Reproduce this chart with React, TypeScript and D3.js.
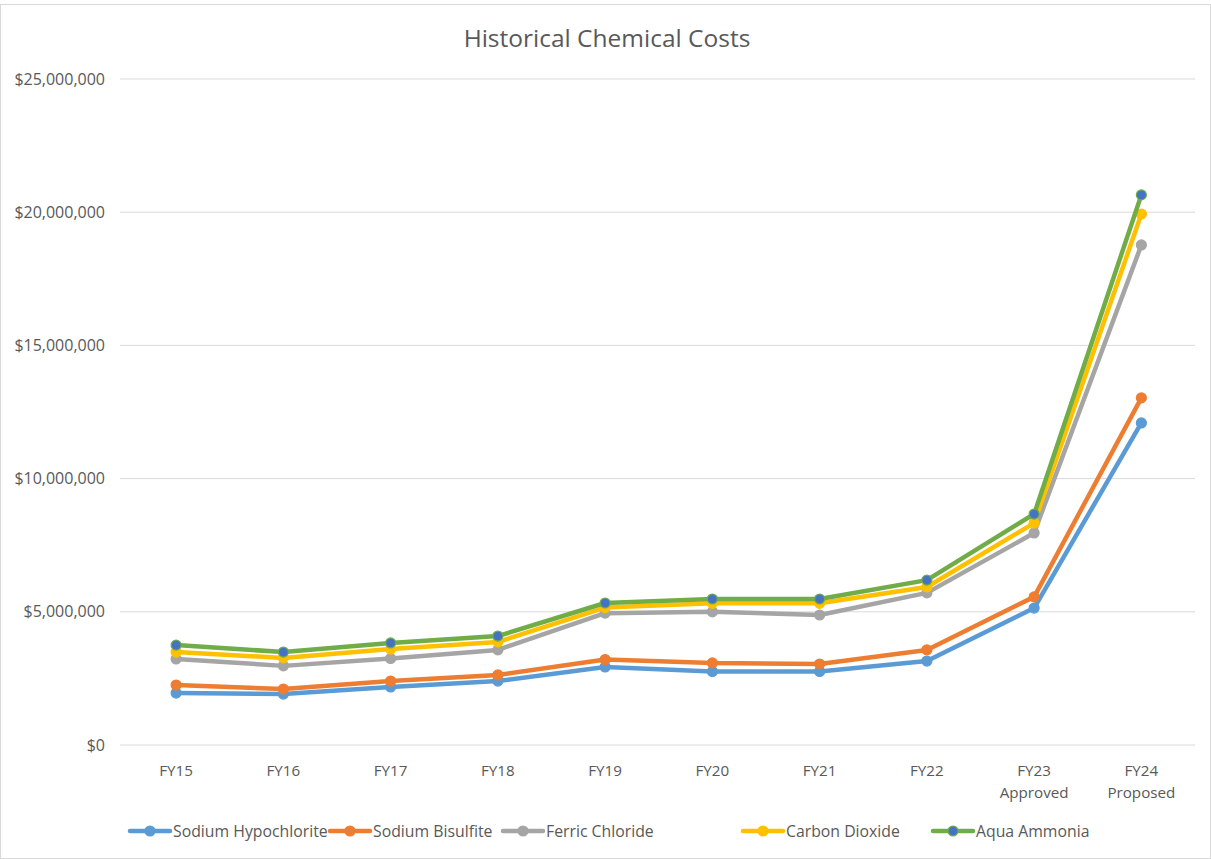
import React from "react";
import * as d3 from "d3";

const categories = ["FY15", "FY16", "FY17", "FY18", "FY19", "FY20", "FY21", "FY22", "FY23\nApproved", "FY24\nProposed"];
const sodiumHypochlorite = [1950000, 1910000, 2180000, 2400000, 2930000, 2760000, 2760000, 3150000, 5140000, 12090000];
const sodiumBisulfite = [2250000, 2100000, 2400000, 2630000, 3210000, 3080000, 3040000, 3570000, 5560000, 13030000];
const ferricChloride = [3230000, 2970000, 3250000, 3570000, 4950000, 5000000, 4880000, 5710000, 7960000, 18770000];
const carbonDioxide = [3490000, 3270000, 3600000, 3870000, 5160000, 5320000, 5320000, 5930000, 8330000, 19930000];
const aquaAmmonia = [3750000, 3490000, 3830000, 4090000, 5330000, 5480000, 5480000, 6190000, 8670000, 20650000];
const yTicks = [0, 5000000, 10000000, 15000000, 20000000, 25000000];

const series = [
  { name: "Sodium Hypochlorite", values: sodiumHypochlorite, color: "#5B9BD5", marker: "#5B9BD5" },
  { name: "Sodium Bisulfite", values: sodiumBisulfite, color: "#ED7D31", marker: "#ED7D31" },
  { name: "Ferric Chloride", values: ferricChloride, color: "#A5A5A5", marker: "#A5A5A5" },
  { name: "Carbon Dioxide", values: carbonDioxide, color: "#FFC000", marker: "#FFC000" },
  { name: "Aqua Ammonia", values: aquaAmmonia, color: "#70AD47", marker: "#4472C4" },
];

const legendX = [130, 330, 503, 743, 933];

export default function App() {
  const W = 1211, H = 859;
  const x = d3.scaleBand<string>().domain(categories).range([122.5, 1195]);
  const y = d3.scaleLinear().domain([0, 25000000]).range([745, 79]);
  const fmt = (v: number) => "$" + d3.format(",")(v);
  const line = d3.line<number>().x((_, i) => x(categories[i])! + x.bandwidth() / 2).y((d) => y(d));
  const font = "'Open Sans', 'Liberation Sans', sans-serif";
  return (
    <svg width={W} height={H} style={{ position: "absolute", left: 0, top: 0 }} fontFamily={font}>
      <rect x={0.5} y={4.5} width={W - 1} height={H - 5} fill="#fff" stroke="#D9D9D9" />
      <text x={607} y={47} textAnchor="middle" fontSize={24.5} fill="#595959">Historical Chemical Costs</text>
      {yTicks.map((t) => (
        <g key={t}>
          <line x1={120} x2={1195} y1={y(t)} y2={y(t)} stroke="#D9D9D9" strokeWidth={1} />
          <text x={105} y={y(t) + 5.5} textAnchor="end" fontSize={16} fill="#595959">{fmt(t)}</text>
        </g>
      ))}
      {categories.map((c) => (
        <text key={c} x={x(c)! + x.bandwidth() / 2} y={776} textAnchor="middle" fontSize={15.2} fill="#595959">
          {c.split("\n").map((s, i) => (
            <tspan key={i} x={x(c)! + x.bandwidth() / 2} dy={i === 0 ? 0 : 22}>{s}</tspan>
          ))}
        </text>
      ))}
      {series.map((s) => (
        <g key={s.name}>
          <path d={line(s.values)!} fill="none" stroke={s.color} strokeWidth={4.5} strokeLinejoin="round" />
          {s.values.map((v, i) => (
            <circle key={i} cx={x(categories[i])! + x.bandwidth() / 2} cy={y(v)} r={5} fill={s.marker}
              stroke={s.color} strokeWidth={1.2} />
          ))}
        </g>
      ))}
      {series.map((s, i) => (
        <g key={s.name} transform={`translate(${legendX[i]},831)`}>
          <line x1={0} x2={40} y1={0} y2={0} stroke={s.color} strokeWidth={4.5} strokeLinecap="round" />
          <circle cx={20} cy={0} r={5} fill={s.marker} stroke={s.color} strokeWidth={1.2} />
          <text x={43} y={5.5} fontSize={15.8} fill="#595959">{s.name}</text>
        </g>
      ))}
    </svg>
  );
}
